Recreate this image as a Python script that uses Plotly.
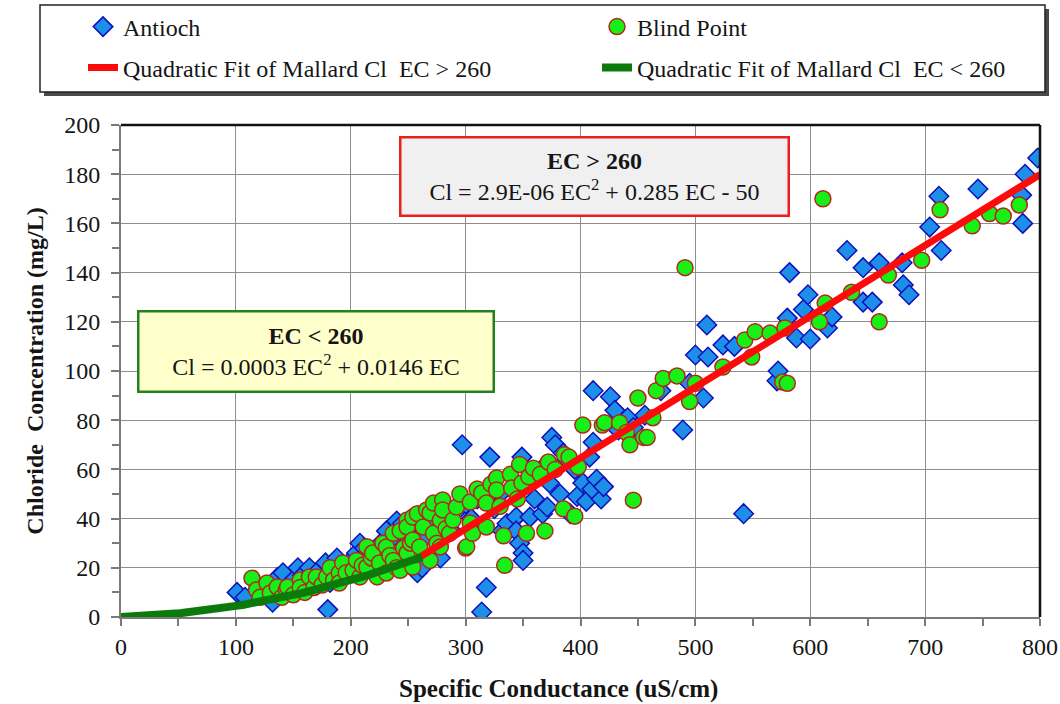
import numpy as np
import plotly.graph_objects as go

# ---- Antioch observations (EC uS/cm, Cl mg/L) ----
antioch_ec = [101, 108, 127, 132, 136, 141, 150, 154, 158, 164, 170, 178, 180, 182, 188, 192,
              198, 205, 208, 212, 219, 222, 226, 231, 236, 240, 245, 250, 255, 258, 262, 266,
              270, 275, 278, 282, 286, 290, 297, 300, 305, 310, 314, 318, 321, 325, 330, 332,
              336, 340, 344, 344, 347, 349, 350, 350, 353, 356, 360, 362, 367, 370, 371, 373,
              375, 378, 382, 385, 388, 391, 395, 397, 402, 405, 408, 410, 411, 411, 414, 418,
              420, 426, 430, 433, 441, 446, 456, 470, 489, 495, 500, 507, 510, 511, 524, 534,
              542, 571, 572, 580, 582, 588, 594, 598, 600, 615, 619, 632, 646, 646, 654, 660,
              680, 681, 686, 704, 712, 714, 746, 784, 785, 787, 798]
antioch_cl = [10, 8, 12, 6, 16, 18, 15, 20, 17, 20, 18, 22, 3, 14, 24, 20,
              22, 26, 30, 28, 27, 25, 30, 35, 32, 39, 38, 34, 30, 18, 20, 33,
              38, 35, 24, 40, 36, 42, 70, 46, 40, 48, 2, 12, 65, 44, 50, 35,
              38, 52, 40.6, 35, 30, 65, 26, 23, 55, 40.6, 48, 58, 42, 62, 44.7, 54.5,
              73, 70, 50, 66.6, 64, 42, 60, 49, 54.5, 47, 65, 52, 71, 92, 56, 48,
              53, 89.5, 84, 76, 81, 77, 82, 92, 76, 95, 106.5, 89, 118.7, 105.7, 110.6, 110,
              42, 96, 100, 121.5, 140, 113.4, 125, 131, 113, 117.5, 122, 149, 142, 128, 128, 144,
              144, 135, 131, 158.5, 171, 149, 174, 171.5, 160, 180, 186.6]

# ---- Blind Point observations (EC uS/cm, Cl mg/L) ----
blind_ec = [114, 118, 121, 127, 130, 136, 140, 144, 145, 150, 156, 156, 160, 164, 168, 170,
            175, 179, 182, 185, 190, 190, 193, 196, 202, 205, 208, 210, 214, 214, 218, 219,
            223, 225, 228, 231, 231, 234, 237, 237, 240, 243, 243, 246, 249, 249, 249, 252,
            254, 254, 254, 258, 260, 263, 266, 269, 269, 272, 272, 275, 278, 278, 280, 280,
            283, 286, 289, 292, 295, 300, 301, 304, 304, 306, 310, 314, 318, 318, 322, 327,
            327, 330, 333, 334, 339, 340, 345, 347, 349, 353, 355, 359, 365, 369, 372, 378,
            385, 386, 390, 395, 398, 402, 419, 421, 434, 440, 443, 446, 450, 455, 458, 463,
            466, 472, 484, 491, 495, 500, 524, 543, 549, 552, 565, 576, 578, 580, 608, 611,
            613, 636, 660, 668, 697, 713, 741, 756, 768, 782]
blind_cl = [15.8, 11, 8, 13.8, 9.8, 12.2, 8, 11, 12.2, 9, 15, 12, 10, 16.3, 12, 16.3,
            13, 16.3, 20, 15, 17.9, 13.8, 22, 18, 19, 23, 16.3, 21, 20.3, 28.6, 24, 26,
            16.3, 22, 30, 28.5, 17.9, 25, 23, 34, 20, 35, 19, 28, 26, 39.4, 36.6, 30,
            20.3, 40.6, 31.3, 42, 28.5, 36.6, 43.5, 23, 42.3, 46.3, 34, 30, 28.5, 39.4, 47.6, 43.5,
            36, 34, 39.4, 44.7, 50, 28, 28.6, 46.7, 38.2, 34, 52, 50.4, 46.3, 36.6, 54, 56.5,
            51.6, 45, 33, 21, 58, 52.4, 48, 62, 54.5, 34, 57, 60.5, 58, 35, 63, 60,
            44, 66, 65, 41, 61, 78, 78, 79, 79, 75, 70, 47.5, 89, 73, 73, 81,
            92, 97, 98, 142, 87.6, 95, 101.6, 112.6, 105.7, 116, 115.4, 95.5, 117.5, 95, 120, 170,
            127.6, 132, 120, 139, 145, 165.5, 159, 164, 163, 167.5]

# ---- Quadratic fit coefficients for Mallard Cl (a*EC^2 + b*EC + c) ----
high_fit = (2.9e-06, 0.285, -50.0)   # EC > 260
low_fit = (0.0003, 0.0146, 0.0)      # EC < 260
high_ec_range = (255, 800)
low_ec_range = (0, 262)

x_ticks = [0, 100, 200, 300, 400, 500, 600, 700, 800]
y_ticks = [0, 20, 40, 60, 80, 100, 120, 140, 160, 180, 200]


def quad(coef, ec):
    a, b, c = coef
    return a * ec ** 2 + b * ec + c


ec_hi = np.linspace(*high_ec_range, 120)
ec_lo = np.linspace(*low_ec_range, 120)

SERIF = "Liberation Serif"
TXT = "#151515"

fig = go.Figure()
fig.add_trace(go.Scatter(
    x=antioch_ec, y=antioch_cl, mode="markers", name="Antioch", legend="legend",
    marker=dict(symbol="diamond", size=15, color="#1e8fe8",
                line=dict(color="#1010b8", width=1.5)),
))
fig.add_trace(go.Scatter(
    x=blind_ec, y=blind_cl, mode="markers", name="Blind Point", legend="legend",
    marker=dict(symbol="circle", size=16, color="#16f016",
                line=dict(color="#b3261e", width=1.5)),
))
fig.add_trace(go.Scatter(
    x=ec_hi, y=quad(high_fit, ec_hi), mode="lines", legend="legend2",
    name="Quadratic Fit of Mallard Cl  EC > 260",
    line=dict(color="#ff0a0a", width=7),
))
fig.add_trace(go.Scatter(
    x=ec_lo, y=quad(low_fit, ec_lo), mode="lines", legend="legend2",
    name="Quadratic Fit of Mallard Cl  EC < 260",
    line=dict(color="#0a7a0a", width=8),
))

W, H = 1060, 704
ML, MR, MT, MB = 121, 20, 125, 87
PW, PH = W - ML - MR, H - MT - MB


def px_x(p):
    return (p - ML) / PW


def px_y(p):
    return (H - MB - p) / PH


grid_col = "#8e8e8e"
axis_col = "#7a7a7a"

shapes = [
    # legend frame: drop shadow then white box
    dict(type="rect", xref="paper", yref="paper",
         x0=px_x(44), x1=px_x(1049), y0=px_y(96), y1=px_y(9),
         fillcolor="#4a4a4a", line=dict(width=0), layer="above"),
    dict(type="rect", xref="paper", yref="paper",
         x0=px_x(40), x1=px_x(1045), y0=px_y(92), y1=px_y(5),
         fillcolor="white", line=dict(color="#222", width=1.5), layer="above"),
    # dark top and right frame of the plot area
    dict(type="line", xref="paper", yref="paper", x0=0, x1=1, y0=1, y1=1,
         line=dict(color="#111", width=2.5), layer="above"),
    dict(type="line", xref="paper", yref="paper", x0=1, x1=1, y0=0, y1=1,
         line=dict(color="#111", width=2.5), layer="above"),
]

annotations = [
    dict(x=412.5, y=179, xref="x", yref="y", showarrow=False,
         text="<b>EC > 260</b><br>Cl = 2.9E-06 EC<sup>2</sup> + 0.285 EC - 50",
         font=dict(family=SERIF, size=24, color=TXT), align="center",
         bgcolor="#f0f0f0", bordercolor="#e8201c", borderwidth=2.5, borderpad=0,
         width=386, height=76),
    dict(x=170, y=108, xref="x", yref="y", showarrow=False,
         text="<b>EC < 260</b><br>Cl = 0.0003 EC<sup>2</sup> + 0.0146 EC",
         font=dict(family=SERIF, size=24, color=TXT), align="center",
         bgcolor="#ffffcc", bordercolor="#23801f", borderwidth=2.5, borderpad=0,
         width=353, height=78),
    # x-axis title, set slightly left of the plot centre
    dict(x=px_x(558), y=px_y(689), xref="paper", yref="paper", showarrow=False,
         xanchor="center", yanchor="middle",
         text="<b>Specific Conductance (uS/cm)</b>",
         font=dict(family=SERIF, size=25, color=TXT)),
]

legend_common = dict(
    orientation="h", xanchor="left", yanchor="middle",
    bgcolor="rgba(0,0,0,0)", borderwidth=0,
    font=dict(family=SERIF, size=24, color=TXT),
    entrywidth=469, entrywidthmode="pixels", itemwidth=30,
)

fig.update_layout(
    width=W, height=H,
    margin=dict(l=ML, r=MR, t=MT, b=MB, autoexpand=False),
    paper_bgcolor="white", plot_bgcolor="white",
    font=dict(family=SERIF, color=TXT),
    showlegend=True,
    legend=dict(x=px_x(83), y=px_y(27), **legend_common),
    legend2=dict(x=px_x(83), y=px_y(68), **legend_common),
    shapes=shapes,
    annotations=annotations,
    xaxis=dict(
        range=[0, 800], tickvals=x_ticks, ticktext=[str(v) for v in x_ticks],
        showgrid=True, gridcolor=grid_col, gridwidth=1.4,
        showline=True, linecolor=axis_col, linewidth=2,
        ticks="outside", ticklen=7, tickcolor=axis_col, tickwidth=1.5,
        minor=dict(dtick=50, tick0=0, ticks="outside", ticklen=7,
                   tickcolor=axis_col, tickwidth=1.5, showgrid=False),
        zeroline=False,
        tickfont=dict(family=SERIF, size=24, color=TXT),
    ),
    yaxis=dict(
        range=[0, 200], tickvals=y_ticks, ticktext=[str(v) for v in y_ticks],
        showgrid=True, gridcolor=grid_col, gridwidth=1.4,
        showline=True, linecolor=axis_col, linewidth=2,
        ticks="outside", ticklen=8, tickcolor=axis_col, tickwidth=1.5,
        ticklabelstandoff=6,
        minor=dict(dtick=10, tick0=0, ticks="outside", ticklen=7,
                   tickcolor=axis_col, tickwidth=1.5, showgrid=False),
        zeroline=False,
        tickfont=dict(family=SERIF, size=24, color=TXT),
        title=dict(text="<b>Chloride  Concentration (mg/L)</b>",
                   font=dict(family=SERIF, size=24, color=TXT), standoff=14),
    ),
    yaxis2=dict(
        overlaying="y", matches="y", side="left", range=[0, 200],
        tickvals=y_ticks, showticklabels=False, showgrid=False, zeroline=False,
        ticks="inside", ticklen=7, tickcolor=axis_col, tickwidth=1.5,
        minor=dict(dtick=10, tick0=0, ticks="inside", ticklen=7,
                   tickcolor=axis_col, tickwidth=1.5, showgrid=False),
    ),
)

fig.write_html("out.html")
